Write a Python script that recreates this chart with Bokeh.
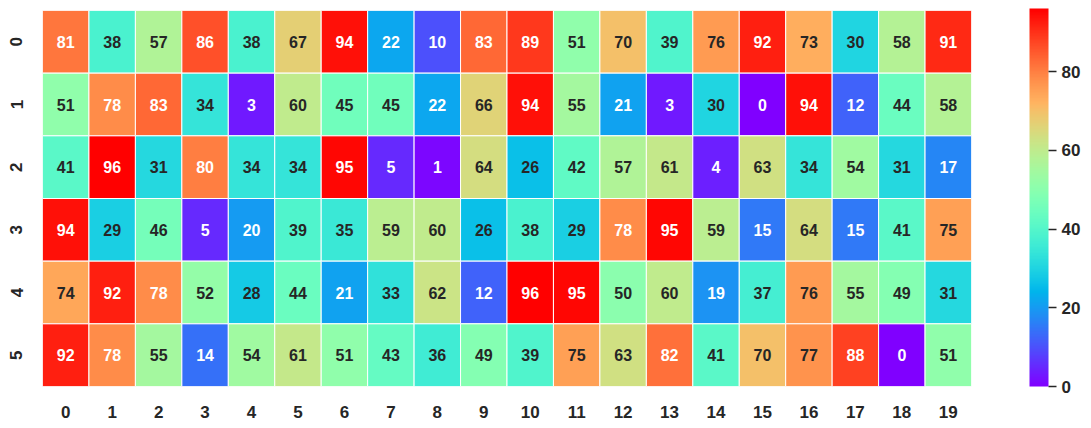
import math
from bokeh.plotting import figure
from bokeh.models import ColumnDataSource, LinearColorMapper, ColorBar, FixedTicker, FactorRange
from bokeh.core.properties import value
from bokeh.embed import file_html
from bokeh.resources import INLINE

cols = [str(i) for i in range(20)]
rows = [str(i) for i in range(6)]
row0 = [81, 38, 57, 86, 38, 67, 94, 22, 10, 83, 89, 51, 70, 39, 76, 92, 73, 30, 58, 91]
row1 = [51, 78, 83, 34, 3, 60, 45, 45, 22, 66, 94, 55, 21, 3, 30, 0, 94, 12, 44, 58]
row2 = [41, 96, 31, 80, 34, 34, 95, 5, 1, 64, 26, 42, 57, 61, 4, 63, 34, 54, 31, 17]
row3 = [94, 29, 46, 5, 20, 39, 35, 59, 60, 26, 38, 29, 78, 95, 59, 15, 64, 15, 41, 75]
row4 = [74, 92, 78, 52, 28, 44, 21, 33, 62, 12, 96, 95, 50, 60, 19, 37, 76, 55, 49, 31]
row5 = [92, 78, 55, 14, 54, 61, 51, 43, 36, 49, 39, 75, 63, 82, 41, 70, 77, 88, 0, 51]
grid = [row0, row1, row2, row3, row4, row5]
cbar_ticks = [0, 20, 40, 60, 80]

# matplotlib "rainbow" colormap, 256 entries
def rainbow(t):
    r = min(1.0, abs(2 * t - 0.5))
    g = max(0.0, math.sin(math.pi * t))
    b = max(0.0, math.cos(math.pi / 2 * t))
    return (r, g, b)

N = 256
pal_rgb = [rainbow(i / (N - 1)) for i in range(N)]
palette = ["#%02x%02x%02x" % tuple(int(round(c * 255)) for c in rgb) for rgb in pal_rgb]

vmin = 0
vmax = max(max(r) for r in grid)

def lum(rgb):
    lin = [c / 12.92 if c <= 0.03928 else ((c + 0.055) / 1.055) ** 2.4 for c in rgb]
    return 0.2126 * lin[0] + 0.7152 * lin[1] + 0.0722 * lin[2]

xs, ys, vals, tcol, labels = [], [], [], [], []
for ri, r in enumerate(grid):
    for ci, v in enumerate(r):
        xs.append(cols[ci]); ys.append(rows[ri]); vals.append(v); labels.append(str(v))
        idx = min(N - 1, int((v - vmin) / (vmax - vmin) * N))
        tcol.append("#262626" if lum(pal_rgb[idx]) > 0.408 else "#ffffff")

src = ColumnDataSource(dict(x=xs, y=ys, v=vals, tc=tcol, lab=labels))
mapper = LinearColorMapper(palette=palette, low=vmin, high=vmax)

p = figure(width=1091, height=428, output_backend="svg", toolbar_location=None,
           x_range=FactorRange(factors=cols), y_range=FactorRange(factors=rows[::-1]),
           min_border_left=42, min_border_top=10, min_border_bottom=42, min_border_right=120)
p.outline_line_color = None
p.grid.grid_line_color = None
p.rect(x="x", y="y", width=1, height=1, source=src,
       fill_color={"field": "v", "transform": mapper}, line_color="white", line_width=1)
p.text(x="x", y="y", text="lab", source=src, text_color="tc", text_align="center",
       text_baseline="middle", text_font=value("Liberation Sans"), text_font_style="bold",
       text_font_size="16px")

for ax in (p.xaxis, p.yaxis):
    ax.axis_line_color = None
    ax.major_tick_line_color = None
    ax.minor_tick_line_color = None
    ax.major_label_text_font = "Liberation Sans"
    ax.major_label_text_font_style = "bold"
    ax.major_label_text_font_size = "17px"
    ax.major_label_text_color = "#262626"
p.xaxis.major_label_standoff = 13
p.yaxis.major_label_standoff = 14
p.yaxis.major_label_orientation = "vertical"

cb = ColorBar(color_mapper=mapper, width=19, height=378, padding=0, margin=0,
              ticker=FixedTicker(ticks=cbar_ticks), major_tick_out=8, major_tick_in=0,
              major_tick_line_color="#262626", major_tick_line_width=1.5,
              minor_tick_line_color=None, bar_line_color=None,
              major_label_text_font="Liberation Sans", major_label_text_font_style="bold",
              major_label_text_font_size="17px", major_label_text_color="#262626",
              label_standoff=5, location=(58, 0))
p.add_layout(cb, "right")

open("out.html", "w").write(file_html(p, INLINE))
